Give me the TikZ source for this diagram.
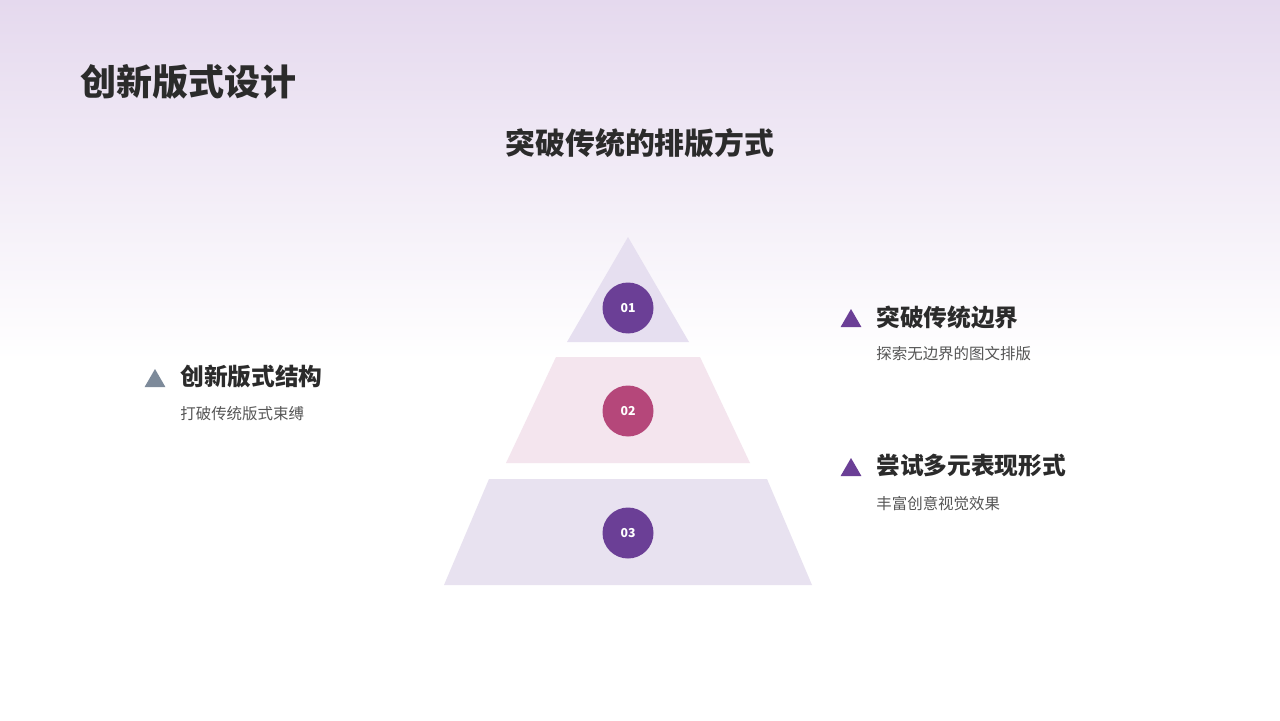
\documentclass[tikz,border=0pt]{standalone}
\usepackage{fontspec}
\setmainfont{Noto Sans CJK SC}
\definecolor{bgtop}{HTML}{E5D9EE}
\definecolor{tri1}{HTML}{E6DFF0}
\definecolor{tri2}{HTML}{F4E5EE}
\definecolor{tri3}{HTML}{E8E2F0}
\definecolor{purp}{HTML}{6B3F96}
\definecolor{mag}{HTML}{B5477A}
\definecolor{greyb}{HTML}{7D8A9A}
\definecolor{txt}{HTML}{2B2B2B}
\definecolor{subt}{HTML}{555555}
\usetikzlibrary{shapes.geometric}
\tikzset{
 circ/.style={circle,minimum size=1.02cm,inner sep=0pt,text=white,font=\fontsize{7}{8}\selectfont\bfseries},
 head/.style={anchor=west,text=txt,font=\fontsize{13.5}{15}\selectfont\bfseries,inner sep=0pt},
 sub/.style={anchor=west,text=subt,font=\fontsize{8.8}{10}\selectfont,inner sep=0pt},
 trimark/.style={isosceles triangle,shape border rotate=90,isosceles triangle apex angle=60,minimum size=0.36cm,inner sep=0pt}
}
\begin{document}
\begin{tikzpicture}[x=0.02cm,y=-0.02cm]
\useasboundingbox (0,0) rectangle (1280,720);
\shade[top color=bgtop,bottom color=white] (0,0) rectangle (1280,360);
\fill[white] (0,360) rectangle (1280,720);
\node[anchor=west,text=txt,font=\fontsize{20.5}{22}\selectfont\bfseries,inner sep=0pt] (title) at (80,82) {创新版式设计};
\node[text=txt,font=\fontsize{17}{19}\selectfont\bfseries,inner sep=0pt] (subtitle) at (640,143) {突破传统的排版方式};
\fill[tri1] (628,237) -- (689,342) -- (567,342) -- cycle;
\fill[tri2] (556,357) -- (700,357) -- (750,463) -- (506,463) -- cycle;
\fill[tri3] (489,479) -- (767,479) -- (812,585) -- (444,585) -- cycle;
\node[circ,fill=purp] (c1) at (628,308) {01};
\node[circ,fill=mag] (c2) at (628,411) {02};
\node[circ,fill=purp] (c3) at (628,533) {03};
\node[trimark,fill=greyb] (m1) at (155,381) {};
\node[head] (h1) at (180,377) {创新版式结构};
\node[sub] (s1) at (180,414) {打破传统版式束缚};
\node[trimark,fill=purp] (m2) at (851,321) {};
\node[head] (h2) at (876,317) {突破传统边界};
\node[sub] (s2) at (876,354) {探索无边界的图文排版};
\node[trimark,fill=purp] (m3) at (851,470) {};
\node[head] (h3) at (876,466) {尝试多元表现形式};
\node[sub] (s3) at (876,504) {丰富创意视觉效果};
\end{tikzpicture}
\end{document}
